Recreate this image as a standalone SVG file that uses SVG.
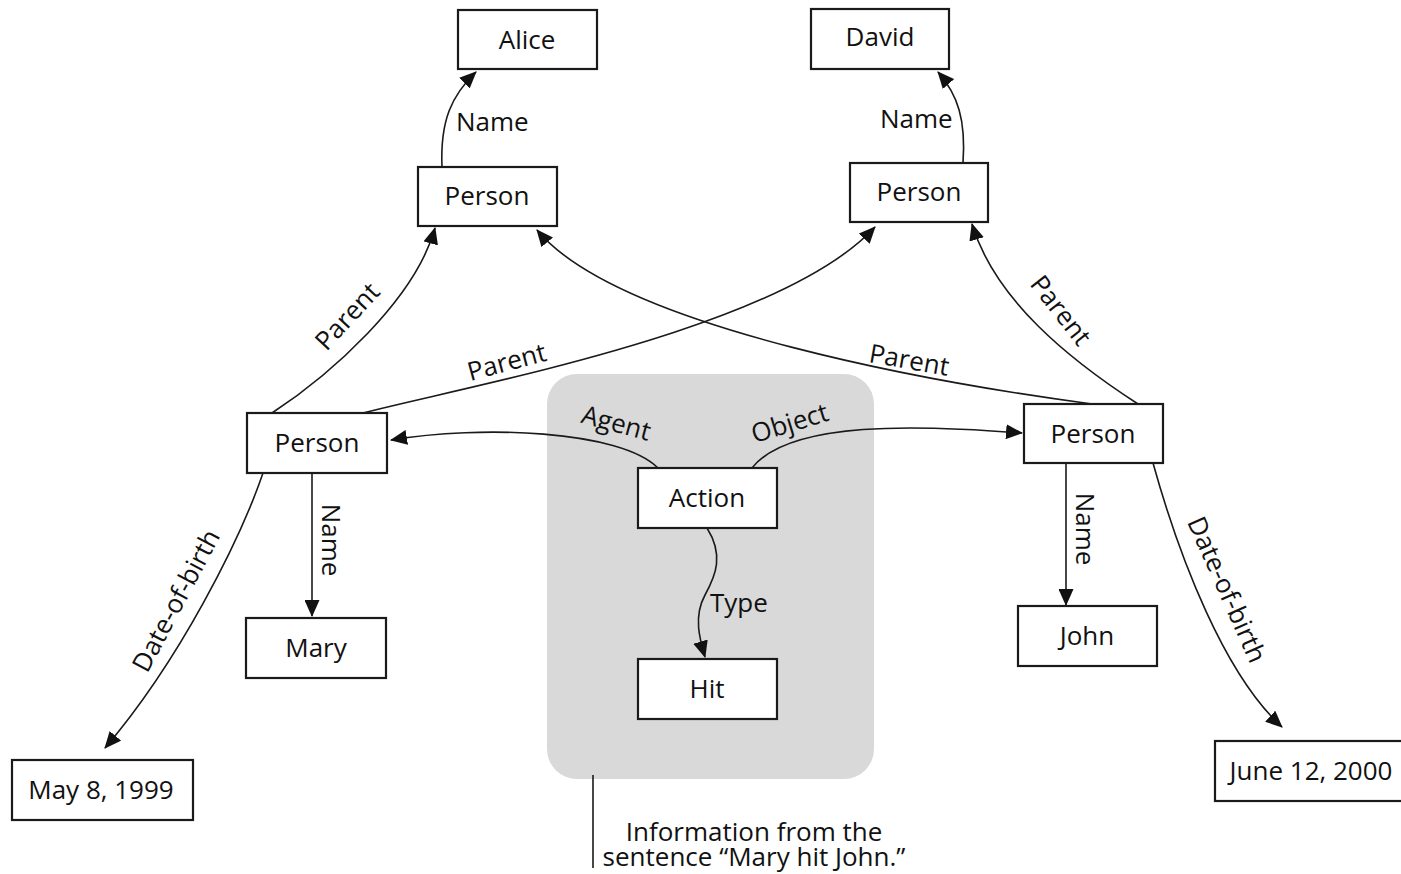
<svg xmlns="http://www.w3.org/2000/svg" width="1401" height="874" viewBox="0 0 1401 874">
<style>
  .node rect { fill: #ffffff; stroke: #1a1a1a; stroke-width: 2.2; }
  .node text, .lbl, .cap { font-family: "Open Sans", "Liberation Sans", sans-serif; font-size: 26px; fill: #111111; }
  .node text { text-anchor: middle; }
  .lbl.c { text-anchor: middle; }
  .cap { text-anchor: middle; }
  .edge { fill: none; stroke: #1a1a1a; stroke-width: 1.6; marker-end: url(#arrow); }
  .plain { fill: none; stroke: #1a1a1a; stroke-width: 1.6; }
</style>
<defs>
  <marker id="arrow" viewBox="0 0 17 15" refX="16" refY="7.5" markerWidth="17" markerHeight="15" markerUnits="userSpaceOnUse" orient="auto">
    <path d="M0,0 L17,7.5 L0,15 z" fill="#111111"/>
  </marker>
</defs>
<rect width="1401" height="874" fill="#ffffff"/>

<g id="group-sentence">
  <rect x="547" y="374" width="327" height="405" rx="30" ry="30" fill="#d9d9d9"/>
  <line class="plain" x1="593" y1="775" x2="593" y2="868"/>
  <text class="cap" x="754" y="841">Information from the<tspan x="754" dy="25">sentence “Mary hit John.”</tspan></text>
</g>

<g id="connectors">
  <path class="edge" d="M442,167 C440,120 452,95 476,72"/>
  <path class="edge" d="M963,163 C966,120 958,95 938,72"/>
  <path class="edge" d="M272,413 C330,375 415,300 435,228"/>
  <path class="edge" d="M363,413 C470,385 780,330 875,227"/>
  <path class="edge" d="M1092,404 C950,385 620,330 537,230"/>
  <path class="edge" d="M1138,404 C1070,360 995,300 972,224"/>
  <path class="edge" d="M658,468 C620,430 480,425 391,440"/>
  <path class="edge" d="M752,468 C790,420 920,425 1022,433"/>
  <path class="edge" d="M707,528 C724,555 716,575 705,595 C693,617 700,640 705,657"/>
  <path class="edge" d="M312,473 L312,616"/>
  <path class="edge" d="M1066,463 L1066,605"/>
  <path class="edge" d="M263,473 C240,540 180,660 105,748"/>
  <path class="edge" d="M1153,463 C1180,560 1225,675 1282,727"/>

  <text class="lbl" x="456" y="131">Name</text>
  <text class="lbl" x="880" y="128">Name</text>
  <text class="lbl" x="710" y="612">Type</text>
  <text class="lbl c" transform="translate(348,317) rotate(-47)" x="0" y="8">Parent</text>
  <text class="lbl c" transform="translate(507,363) rotate(-15)" x="0" y="8">Parent</text>
  <text class="lbl c" transform="translate(909,361) rotate(10)" x="0" y="8">Parent</text>
  <text class="lbl c" transform="translate(1060,311) rotate(52)" x="0" y="8">Parent</text>
  <text class="lbl c" transform="translate(616,424) rotate(15)" x="0" y="8">Agent</text>
  <text class="lbl c" transform="translate(790,424) rotate(-17)" x="0" y="8">Object</text>
  <text class="lbl c" transform="translate(331,540) rotate(90)" x="0" y="9">Name</text>
  <text class="lbl c" transform="translate(1085,529) rotate(90)" x="0" y="9">Name</text>
  <text class="lbl c" transform="translate(177,601) rotate(-62)" x="0" y="8">Date-of-birth</text>
  <text class="lbl c" transform="translate(1226,590) rotate(66)" x="0" y="8">Date-of-birth</text>
</g>

<g id="node-alice" class="node"><rect x="458" y="10" width="139" height="59"/><text x="527" y="49">Alice</text></g>
<g id="node-david" class="node"><rect x="811" y="9" width="138" height="60"/><text x="880" y="46">David</text></g>
<g id="node-person-p1" class="node"><rect x="418" y="167" width="139" height="59"/><text x="487" y="205">Person</text></g>
<g id="node-person-p2" class="node"><rect x="850" y="163" width="138" height="59"/><text x="919" y="201">Person</text></g>
<g id="node-person-mary" class="node"><rect x="247" y="413" width="140" height="60"/><text x="317" y="452">Person</text></g>
<g id="node-person-john" class="node"><rect x="1024" y="404" width="139" height="59"/><text x="1093" y="443">Person</text></g>
<g id="node-action" class="node"><rect x="638" y="468" width="139" height="60"/><text x="707" y="507">Action</text></g>
<g id="node-hit" class="node"><rect x="638" y="659" width="139" height="60"/><text x="707" y="698">Hit</text></g>
<g id="node-mary" class="node"><rect x="246" y="618" width="140" height="60"/><text x="316" y="657">Mary</text></g>
<g id="node-john" class="node"><rect x="1018" y="606" width="139" height="60"/><text x="1087" y="645">John</text></g>
<g id="node-may" class="node"><rect x="12" y="760" width="181" height="60"/><text x="101" y="799">May 8, 1999</text></g>
<g id="node-june" class="node"><rect x="1215" y="741" width="190" height="60"/><text x="1311" y="780">June 12, 2000</text></g>
</svg>
